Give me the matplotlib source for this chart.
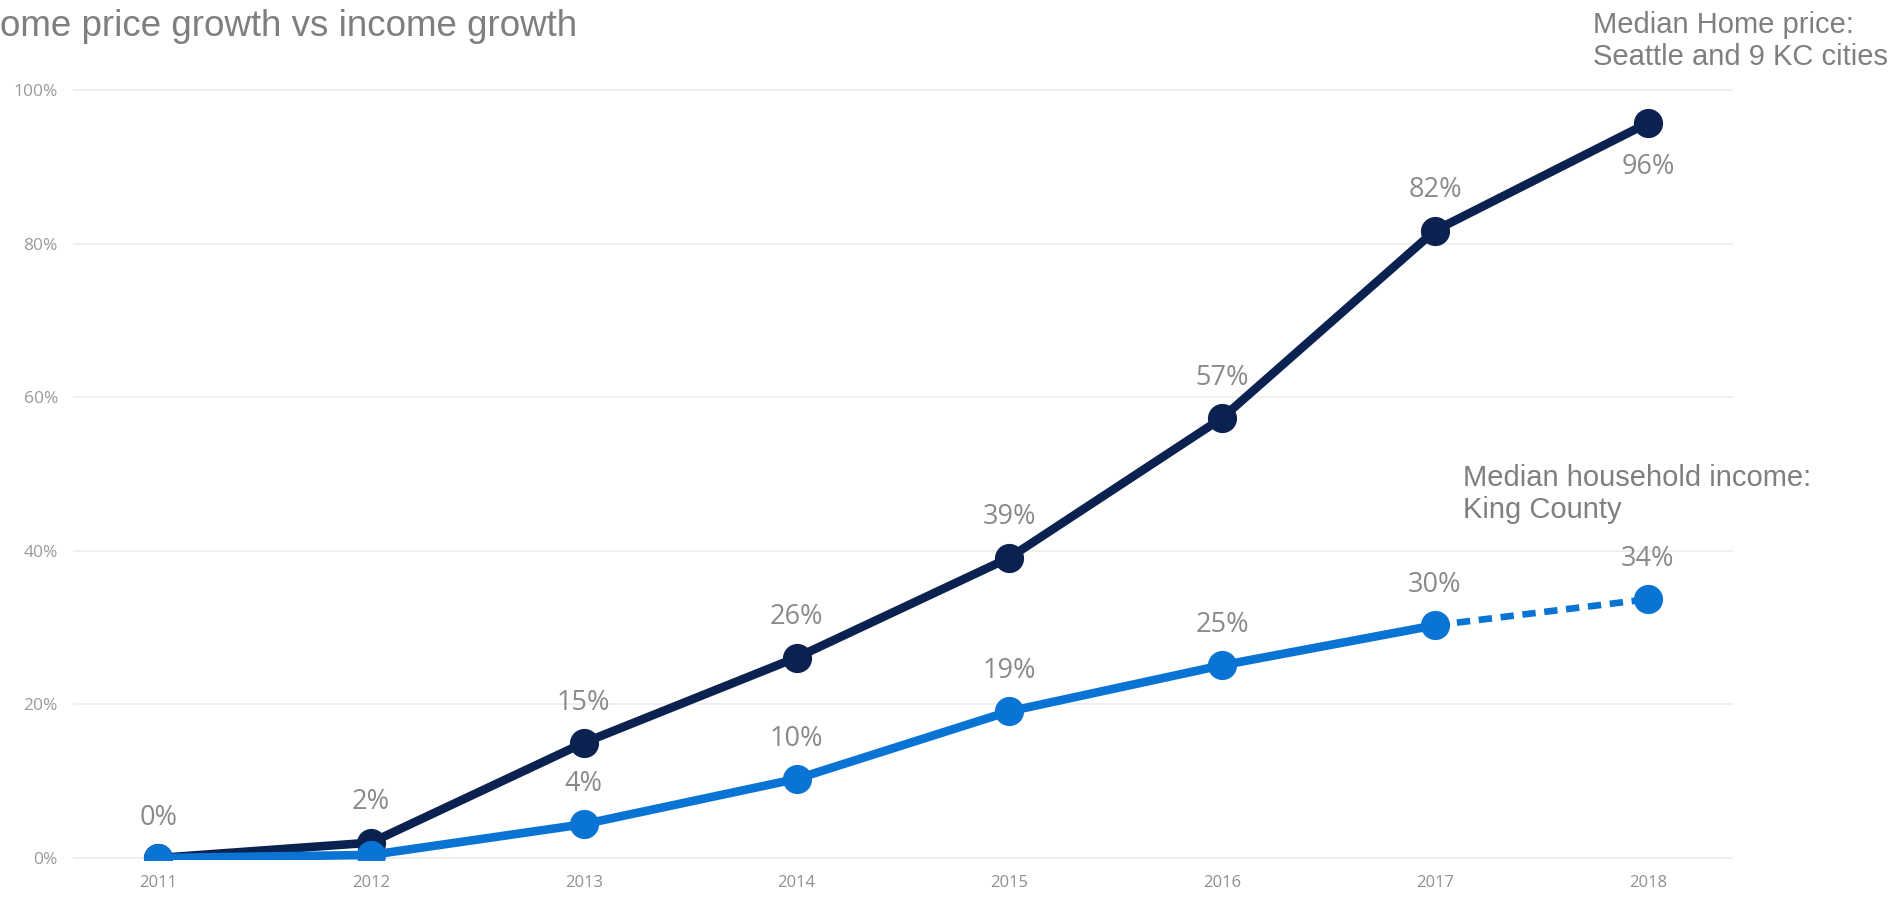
import matplotlib.pyplot as plt

years = [2011, 2012, 2013, 2014, 2015, 2016, 2017, 2018]
home_growth = [0, 2.0, 15.0, 26.1, 39.1, 57.3, 81.7, 95.7]
income_growth = [0, 0.4, 4.4, 10.3, 19.1, 25.1, 30.3, 33.7]
home_labels = ['0%', '2%', '15%', '26%', '39%', '57%', '82%', '96%']
income_labels = ['', '', '4%', '10%', '19%', '25%', '30%', '34%']
y_ticks = [0, 20, 40, 60, 80, 100]

navy = '#0b2150'
blue = '#0a74d4'
grey_text = '#7f7f7f'
label_grey = '#8a8a8a'

fig = plt.figure(figsize=(19.04, 8.99), dpi=100)
ax = fig.add_axes([0.03834, 0.04338, 0.87185, 0.87319])

# home price line (drawn first, income sits on top)
ax.plot(years, home_growth, color=navy, lw=6.2, marker='o', ms=20,
        solid_joinstyle='round', zorder=3)

# income: solid up to 2017, dashed forecast to 2018
ax.plot(years[:7], income_growth[:7], color=blue, lw=6.2, marker='o', ms=20,
        solid_joinstyle='round', zorder=4)
ax.plot(years[6:], income_growth[6:], color=blue, lw=4.8, ls=(0, (2, 1.3)), zorder=4)
ax.plot(years[7:], income_growth[7:], color=blue, lw=0, marker='o', ms=20, zorder=5)

for i, (x, y) in enumerate(zip(years, home_growth)):
    if not home_labels[i]:
        continue
    dy = -32 if i == len(years) - 1 else 29
    ax.annotate(home_labels[i], (x, y), xytext=(0, dy), textcoords='offset points',
                ha='center', va='center', fontsize=19.5, color=label_grey,
                family='Open Sans', zorder=6)

for i, (x, y) in enumerate(zip(years, income_growth)):
    if not income_labels[i]:
        continue
    ax.annotate(income_labels[i], (x, y), xytext=(0, 29), textcoords='offset points',
                ha='center', va='center', fontsize=19.5, color=label_grey,
                family='Open Sans', zorder=6)

ax.set_xlim(2010.6, 2018.4)
ax.set_ylim(-0.26, 101.95)
ax.set_xticks(years)
ax.set_xticklabels([str(y) for y in years], family='Open Sans', fontsize=12, color='#8f8f8f')
ax.set_yticks(y_ticks)
ax.set_yticklabels([f'{t}%' for t in y_ticks], family='Open Sans', fontsize=12.5, color='#9a9a9a')
ax.tick_params(axis='x', length=0, pad=11)
ax.tick_params(axis='y', length=0, pad=10.8)
ax.grid(axis='y', color='#efefef', lw=1.4)
ax.set_axisbelow(True)
for s in ax.spines.values():
    s.set_visible(False)

fig.text(0.0, 1 - 36 / 899, 'ome price growth vs income growth', fontsize=26.5,
         color=grey_text, family='Liberation Sans', va='baseline', ha='left')

fig.text(1593 / 1904, 1 - 33 / 899, 'Median Home price:', fontsize=21,
         color=grey_text, family='Liberation Sans', va='baseline')
fig.text(1593 / 1904, 1 - 65 / 899, 'Seattle and 9 KC cities', fontsize=21,
         color=grey_text, family='Liberation Sans', va='baseline')

fig.text(1463 / 1904, 1 - 486 / 899, 'Median household income:', fontsize=21,
         color=grey_text, family='Liberation Sans', va='baseline')
fig.text(1463 / 1904, 1 - 518 / 899, 'King County', fontsize=21,
         color=grey_text, family='Liberation Sans', va='baseline')

fig.savefig('out.png', dpi=100)
